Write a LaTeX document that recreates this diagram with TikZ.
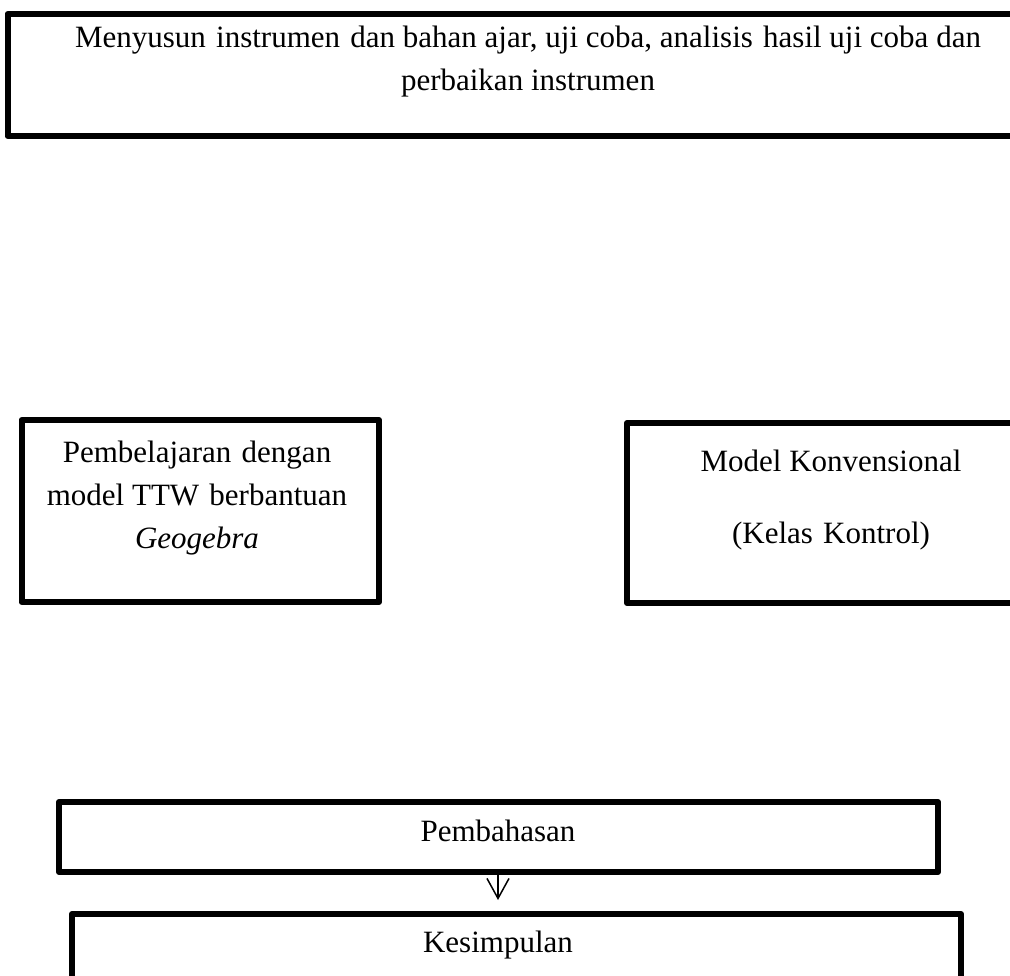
\documentclass[tikz,border=0pt]{standalone}
\usepackage{fontspec}
\setmainfont{Liberation Serif}
\usetikzlibrary{arrows.meta}
\newcommand{\xs}{\hspace{2.5pt}}
\begin{document}
\begin{tikzpicture}[x=1pt,y=-1pt,
  box/.style={draw, line width=6pt, line join=round, rectangle, inner sep=0pt, anchor=north west},
  txt/.style={font=\fontsize{31}{43}\selectfont, align=center, inner sep=0pt, anchor=base},
  arr/.style={line width=1.5pt, -{Straight Barb[length=20pt,width=22pt]}}]
\useasboundingbox (0,0) rectangle (1010,976);
\clip (0,0) rectangle (1010,976);
% boxes
\node[box, minimum width=1053.5pt, minimum height=122pt] (top) at (4.5,11) {};
\node[box, minimum width=357.5pt, minimum height=182pt] (ttw) at (18.5,417) {};
\node[box, minimum width=416pt, minimum height=180pt] (konv) at (624,420) {};
\node[box, minimum width=879pt, minimum height=70pt] (pemb) at (56,799) {};
\node[box, minimum width=889pt, minimum height=100pt] (kes) at (69,911) {};
% texts (anchor = baseline of last line)
\node[txt] (toptxt) at (528,91) {Menyusun \xs instrumen \xs dan bahan ajar, uji coba, analisis \xs hasil uji coba dan\\perbaikan instrumen};
\node[txt] (ttwtxt) at (197,548) {Pembelajaran \xs dengan\\model TTW \xs berbantuan\\\textit{Geogebra}};
\node[txt] (konvtxt) at (831,543) {Model Konvensional\\[29pt](Kelas \xs Kontrol)};
\node[txt] (pembtxt) at (498,841) {Pembahasan};
\node[txt] (kestxt) at (498,952) {Kesimpulan};
% arrow
\coordinate (ax) at (498,0);
\draw[arr, shorten >=11pt] (pemb.south -| ax) -- (kes.north -| ax);
\end{tikzpicture}
\end{document}
